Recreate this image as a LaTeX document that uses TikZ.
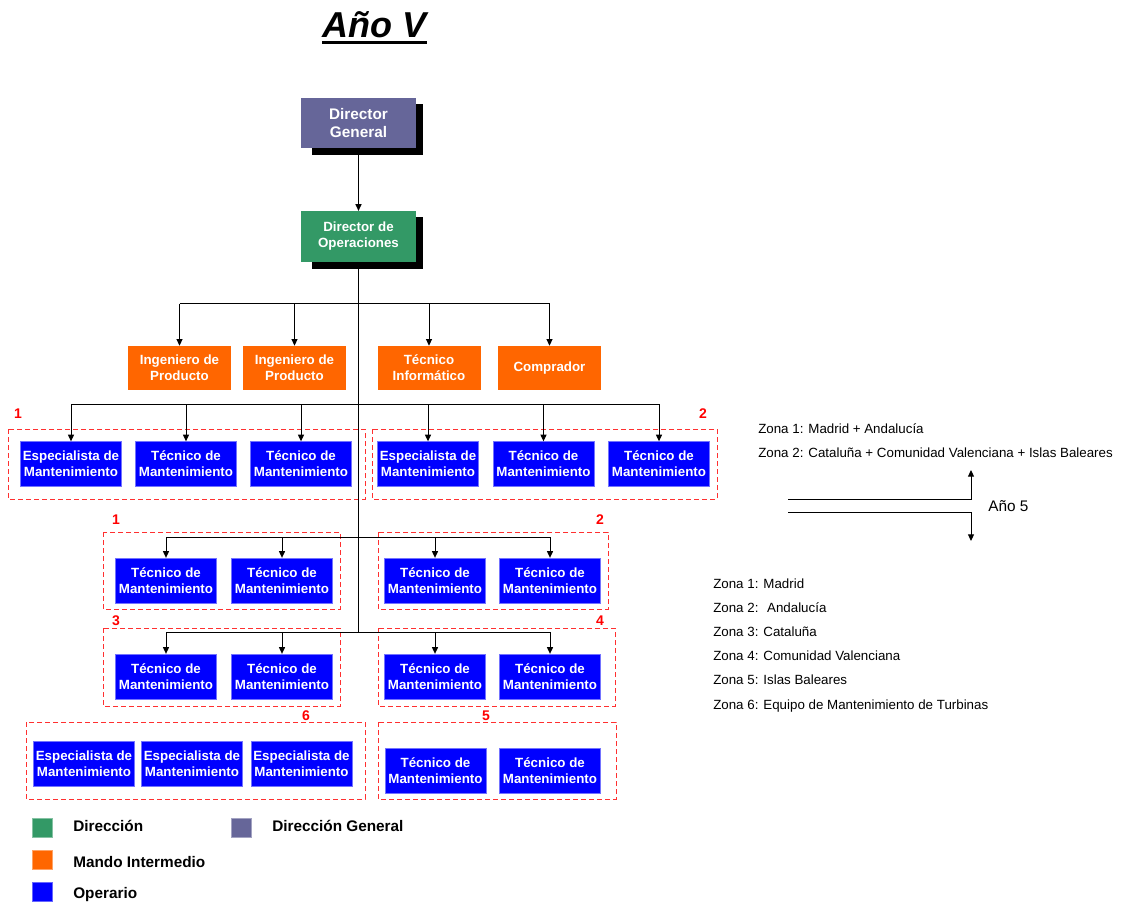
\documentclass[tikz,border=0pt]{standalone}
\usepackage{fontspec}
\setmainfont{Liberation Sans}
\usetikzlibrary{arrows.meta}
\definecolor{dgcol}{HTML}{666699}
\definecolor{docol}{HTML}{339966}
\definecolor{mancol}{HTML}{FF6600}
\definecolor{opcol}{HTML}{0000FF}
\definecolor{zonered}{HTML}{FF3030}
\tikzset{
  box/.style={inner sep=0pt, align=center, text=white, font=\bfseries\fontsize{10}{12}\selectfont},
  dgbox/.style={box, fill=dgcol, minimum width=86.25pt, minimum height=38pt, font=\bfseries\fontsize{11.5}{14}\selectfont},
  dobox/.style={box, fill=docol, minimum width=86.25pt, minimum height=38pt},
  manbox/.style={box, fill=mancol, minimum width=77.25pt, minimum height=33pt},
  opbox/.style={box, fill=opcol, draw=opcol!55!white, line width=0.5pt, minimum width=76pt, minimum height=33.5pt},
  shadowbox/.style={fill=black},
  zone/.style={draw=zonered, dash pattern=on 3.5pt off 2.5pt, line width=0.75pt},
  zlabel/.style={text=red, inner sep=0pt, font=\bfseries\fontsize{10.5}{12}\selectfont},
  conn/.style={draw=black, line width=0.75pt},
  arr/.style={conn, -{Triangle[length=5pt,width=4.5pt]}},
  note/.style={anchor=base west, inner sep=0pt, font=\fontsize{10}{12}\selectfont},
  legsq/.style={minimum width=15pt, minimum height=14.25pt, inner sep=0pt, line width=0.5pt},
  legtext/.style={anchor=base west, inner sep=0pt, font=\bfseries\fontsize{11.5}{14}\selectfont}
}
\begin{document}
\begin{tikzpicture}[x=0.75pt,y=-0.75pt]
\useasboundingbox (0,0) rectangle (1121,902);
\fill[white] (0,0) rectangle (1121,902);

% title
\node[inner sep=0pt, font=\bfseries\itshape\fontsize{27}{30}\selectfont] (title) at (374.5,25) {Año V};
\draw[line width=2.5pt] ([yshift=-3.75pt]title.base west) -- ([yshift=-3.75pt]title.base east);

% shadows
\fill[shadowbox] (312,104) rectangle (423,155);
\fill[shadowbox] (312,217) rectangle (423,269);

% directors
\node[dgbox] (DG) at (358.5,123) {Director\\General};
\node[dobox] (DO) at (358.5,236.5) {Director de\\Operaciones};

% middle management
\node[manbox] (o1) at (179.5,368) {Ingeniero de\\Producto};
\node[manbox] (o2) at (294.5,368) {Ingeniero de\\Producto};
\node[manbox] (o3) at (429,368) {Técnico\\Informático};
\node[manbox] (o4) at (549.5,368) {Comprador};

% zone frames
\draw[zone] (8,429) rectangle (365,499);
\draw[zone] (372,429) rectangle (717,499);
\draw[zone] (103,532) rectangle (340,609);
\draw[zone] (378,532) rectangle (608,609);
\draw[zone] (103,628) rectangle (340,706);
\draw[zone] (378,628) rectangle (615,706);
\draw[zone] (26,722) rectangle (365,799);
\draw[zone] (378,722) rectangle (616,799);

\node[zlabel] (l1a) at (18,414) {1};
\node[zlabel] (l2a) at (703,414) {2};
\node[zlabel] (l1b) at (116,520) {1};
\node[zlabel] (l2b) at (600,520) {2};
\node[zlabel] (l3) at (116,621) {3};
\node[zlabel] (l4) at (600,621) {4};
\node[zlabel] (l6) at (306,716) {6};
\node[zlabel] (l5) at (486,716) {5};

% row 1
\node[opbox] (r1a) at (71,464) {Especialista de\\Mantenimiento};
\node[opbox] (r1b) at (186,464) {Técnico de\\Mantenimiento};
\node[opbox] (r1c) at (301,464) {Técnico de\\Mantenimiento};
\node[opbox] (r1d) at (428,464) {Especialista de\\Mantenimiento};
\node[opbox] (r1e) at (543.5,464) {Técnico de\\Mantenimiento};
\node[opbox] (r1f) at (659,464) {Técnico de\\Mantenimiento};
% row 2
\node[opbox] (r2a) at (166,580.5) {Técnico de\\Mantenimiento};
\node[opbox] (r2b) at (282,580.5) {Técnico de\\Mantenimiento};
\node[opbox] (r2c) at (435,580.5) {Técnico de\\Mantenimiento};
\node[opbox] (r2d) at (550,580.5) {Técnico de\\Mantenimiento};
% row 3
\node[opbox] (r3a) at (166,676.5) {Técnico de\\Mantenimiento};
\node[opbox] (r3b) at (282,676.5) {Técnico de\\Mantenimiento};
\node[opbox] (r3c) at (435,676.5) {Técnico de\\Mantenimiento};
\node[opbox] (r3d) at (550,676.5) {Técnico de\\Mantenimiento};
% row 4
\node[opbox] (r4a) at (84,764) {Especialista de\\Mantenimiento};
\node[opbox] (r4b) at (192,764) {Especialista de\\Mantenimiento};
\node[opbox] (r4c) at (301.5,764) {Especialista de\\Mantenimiento};
\node[opbox] (r4d) at (435.5,770.5) {Técnico de\\Mantenimiento};
\node[opbox] (r4e) at (550,770.5) {Técnico de\\Mantenimiento};

% connectors
\draw[arr] (DG.south) -- (DO.north);
\coordinate (trunkend) at (358.5,632);
\draw[conn] (DO.south) -- (trunkend);

\coordinate (ob) at (358.5,304);
\draw[conn] (o1.north |- ob) -- (o4.north |- ob);
\foreach \n in {o1,o2,o3,o4} \draw[arr] (\n.north |- ob) -- (\n.north);

\coordinate (b1) at (358.5,404);
\draw[conn] (r1a.north |- b1) -- (r1f.north |- b1);
\foreach \n in {r1a,r1b,r1c,r1d,r1e,r1f} \draw[arr] (\n.north |- b1) -- (\n.north);

\coordinate (b2) at (358.5,537);
\draw[conn] (r2a.north |- b2) -- (r2d.north |- b2);
\foreach \n in {r2a,r2b,r2c,r2d} \draw[arr] (\n.north |- b2) -- (\n.north);

\draw[conn] (r3a.north |- trunkend) -- (r3d.north |- trunkend);
\foreach \n in {r3a,r3b,r3c,r3d} \draw[arr] (\n.north |- trunkend) -- (\n.north);

% right annotation
\node[note] (z1) at (758,433) {Zona 1: Madrid + Andalucía};
\node[note] (z2) at (758,457.5) {Zona 2: Cataluña + Comunidad Valenciana + Islas Baleares};
\coordinate (ua) at (788,499);
\coordinate (ub) at (971,499);
\coordinate (ut) at (971,470);
\coordinate (da) at (788,512);
\coordinate (db) at (971,512);
\coordinate (dt) at (971,541);
\draw[arr] (ua) -- (ub) -- (ut);
\draw[arr] (da) -- (db) -- (dt);
\node[anchor=base west, inner sep=0pt, font=\fontsize{11.5}{14}\selectfont] (ano5) at (988,511.5) {Año 5};

\node[note] (n1) at (713,588) {Zona 1: Madrid};
\node[note] (n2) at (713,612) {Zona 2: \ Andalucía};
\node[note] (n3) at (713,636) {Zona 3: Cataluña};
\node[note] (n4) at (713,660.5) {Zona 4: Comunidad Valenciana};
\node[note] (n5) at (713,684.5) {Zona 5: Islas Baleares};
\node[note] (n6) at (713,709) {Zona 6: Equipo de Mantenimiento de Turbinas};

% legend
\node[legsq, fill=docol, draw=docol!60!white] (lg1) at (42,827.5) {};
\node[legsq, fill=dgcol, draw=dgcol!60!white] (lg2) at (241,827.5) {};
\node[legsq, fill=mancol, draw=mancol!60!white] (lg3) at (42,859.5) {};
\node[legsq, fill=opcol, draw=opcol!60!white] (lg4) at (42,891.5) {};
\node[legtext] (lt1) at (73,831.5) {Dirección};
\node[legtext] (lt2) at (272,831.5) {Dirección General};
\node[legtext] (lt3) at (73,867) {Mando Intermedio};
\node[legtext] (lt4) at (73,898) {Operario};
\end{tikzpicture}
\end{document}
